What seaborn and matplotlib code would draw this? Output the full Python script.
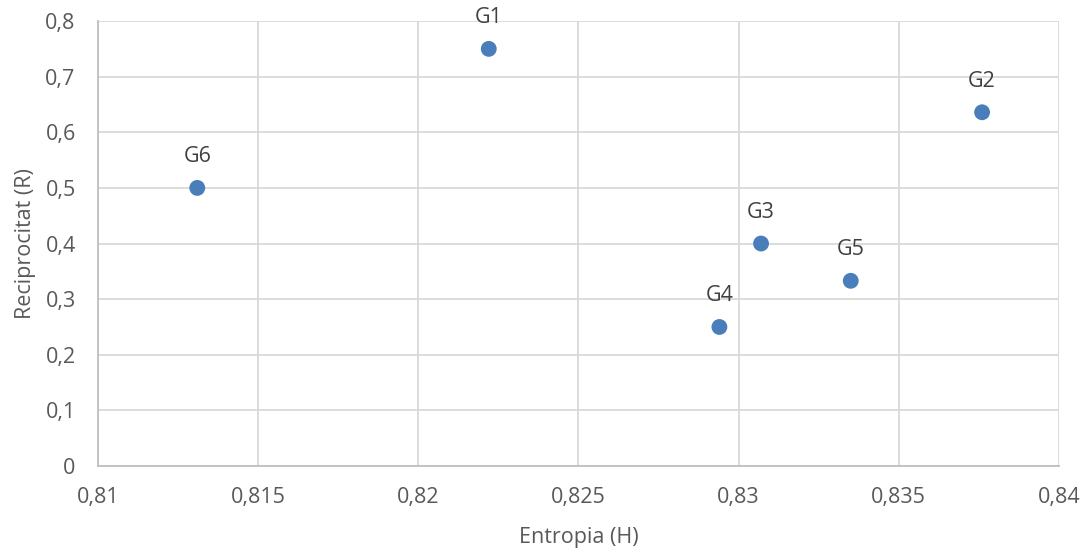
import matplotlib
matplotlib.use("Agg")
import matplotlib.pyplot as plt
import seaborn as sns
import pandas as pd
from matplotlib.ticker import FuncFormatter, MultipleLocator

# Groups with their entropy (H) and reciprocity (R)
groups = ["G1", "G2", "G3", "G4", "G5", "G6"]
entropy = [0.8222, 0.8376, 0.8307, 0.8294, 0.8335, 0.8131]
reciprocity = [0.75, 0.636, 0.40, 0.25, 0.333, 0.50]

df = pd.DataFrame({"group": groups, "H": entropy, "R": reciprocity})

sns.set_theme(style="white")
plt.rcParams["font.family"] = ["Open Sans", "DejaVu Sans"]

text_color = "#595959"
grid_color = "#d9d9d9"
point_color = "#4a7ebb"
fs = 15.5

fig = plt.figure(figsize=(10.86, 5.54), dpi=100)
ax = fig.add_axes([0.0902, 0.1588, 0.8849, 0.8032])

sns.scatterplot(data=df, x="H", y="R", ax=ax, color=point_color, s=130,
                edgecolor="none", zorder=3)

for g, h, r in zip(df["group"], df["H"], df["R"]):
    ax.annotate(g, (h, r), xytext=(0, 22.5), textcoords="offset points",
                ha="center", va="center", fontsize=fs, color="#404040")

ax.set_xlim(0.81, 0.84)
ax.set_ylim(0, 0.8)
ax.xaxis.set_major_locator(MultipleLocator(0.005))
ax.yaxis.set_major_locator(MultipleLocator(0.1))


def comma_fmt(v, _pos):
    s = f"{v:.3f}".rstrip("0").rstrip(".")
    if s in ("-0", ""):
        s = "0"
    return s.replace(".", ",")


ax.xaxis.set_major_formatter(FuncFormatter(comma_fmt))
ax.yaxis.set_major_formatter(FuncFormatter(comma_fmt))

ax.grid(True, color=grid_color, linewidth=1.3)
ax.set_axisbelow(True)
for side in ("top", "right"):
    ax.spines[side].set_visible(False)
for side in ("left", "bottom"):
    ax.spines[side].set_color("#bfbfbf")
    ax.spines[side].set_linewidth(1.3)

ax.tick_params(axis="both", length=0, labelsize=fs, colors=text_color)
ax.tick_params(axis="x", pad=15)
ax.tick_params(axis="y", pad=16)

ax.set_xlabel("Entropia (H)", fontsize=fs, color=text_color, labelpad=14)
ax.set_ylabel("Reciprocitat (R)", fontsize=fs, color=text_color, labelpad=7)

fig.savefig("out.png", dpi=100)
